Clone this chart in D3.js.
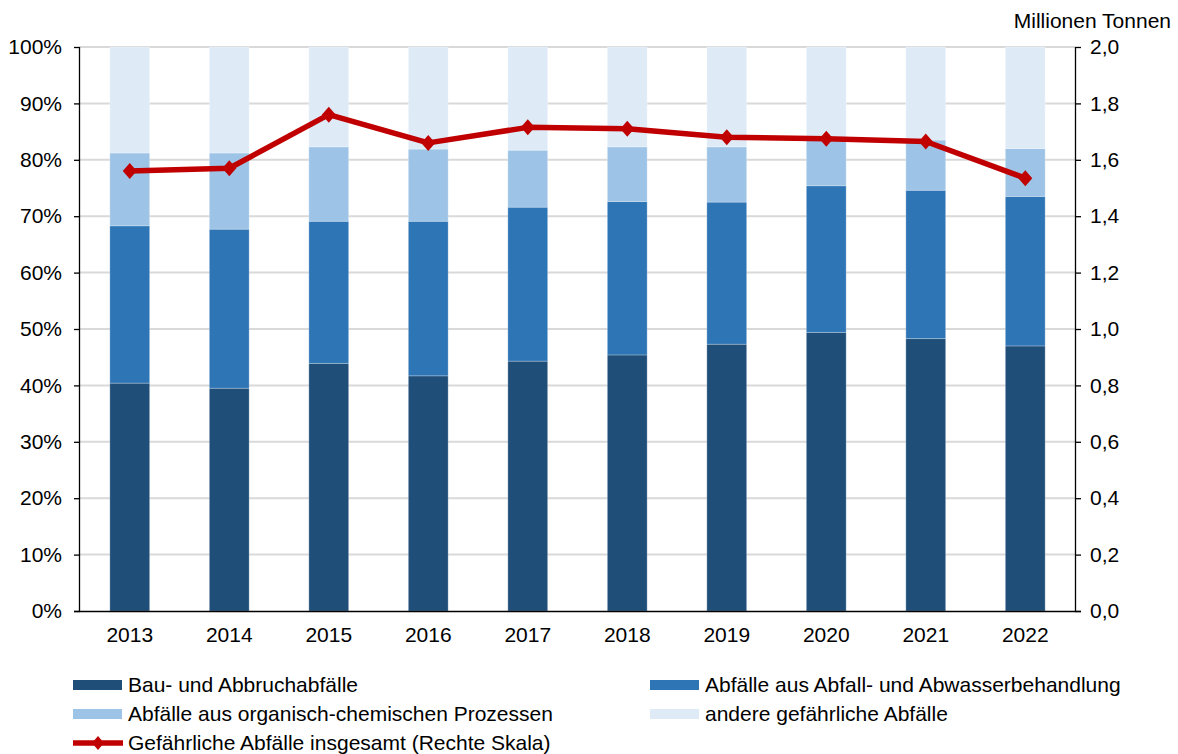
<!DOCTYPE html>
<html>
<head>
<meta charset="utf-8">
<script src="https://cdn.jsdelivr.net/npm/d3@7/dist/d3.min.js"></script>
<style>
  html, body { margin: 0; padding: 0; background: #fff; }
  svg { display: block; font-family: "Liberation Sans", Arial, sans-serif; }
</style>
</head>
<body>
<svg id="chart" width="1178" height="754"></svg>
<script>
// Jahre
const years = ["2013", "2014", "2015", "2016", "2017", "2018", "2019", "2020", "2021", "2022"];

// Anteile (in %) je Abfallart
const bauAbbruch      = [40.4, 39.5, 43.9, 41.7, 44.3, 45.4, 47.3, 49.4, 48.3, 47.0];
const abfallAbwasser  = [27.9, 28.2, 25.2, 27.4, 27.3, 27.2, 25.2, 26.0, 26.3, 26.5];
const organischChem   = [12.9, 13.5, 13.2, 12.8, 10.1,  9.7,  9.8,  8.3,  8.9,  8.5];
const andere          = [18.8, 18.8, 17.7, 18.1, 18.3, 17.7, 17.7, 16.3, 16.5, 18.0];

// Gefährliche Abfälle insgesamt, Millionen Tonnen
const insgesamt = [1.56, 1.57, 1.76, 1.66, 1.715, 1.71, 1.68, 1.675, 1.665, 1.535];

const leftTicks  = [0, 10, 20, 30, 40, 50, 60, 70, 80, 90, 100];
const rightTicks = [0, 0.2, 0.4, 0.6, 0.8, 1.0, 1.2, 1.4, 1.6, 1.8, 2.0];

const seriesNames = [
  "Bau- und Abbruchabfälle",
  "Abfälle aus Abfall- und Abwasserbehandlung",
  "Abfälle aus organisch-chemischen Prozessen",
  "andere gefährliche Abfälle"
];
const lineName = "Gefährliche Abfälle insgesamt (Rechte Skala)";
const colors = ["#1f4e79", "#2e75b6", "#9dc3e6", "#deebf7"];
const red = "#c00000";
const fs = 21;

const svg = d3.select("#chart");
const m = { left: 80, right: 1075, top: 47, bottom: 611 };

const x = d3.scaleBand().domain(years).range([m.left, m.right]).paddingInner(0.6).paddingOuter(0.3);
const yL = d3.scaleLinear().domain([0, 100]).range([m.bottom, m.top]);
const yR = d3.scaleLinear().domain([0, 2]).range([m.bottom, m.top]);

// Gitternetz
svg.append("g").selectAll("line")
  .data(leftTicks.filter(d => d > 0))
  .join("line")
  .attr("x1", m.left).attr("x2", m.right)
  .attr("y1", d => yL(d)).attr("y2", d => yL(d))
  .attr("stroke", "#d9d9d9").attr("stroke-width", 2);

// gestapelte Säulen
const rows = years.map((yr, i) => ({
  year: yr, s0: bauAbbruch[i], s1: abfallAbwasser[i], s2: organischChem[i], s3: andere[i]
}));
const stack = d3.stack().keys(["s0", "s1", "s2", "s3"])(rows);

svg.append("g").selectAll("g")
  .data(stack)
  .join("g")
  .attr("fill", (d, i) => colors[i])
  .selectAll("rect")
  .data(d => d)
  .join("rect")
  .attr("x", d => x(d.data.year))
  .attr("width", x.bandwidth())
  .attr("y", d => yL(d[1]))
  .attr("height", d => yL(d[0]) - yL(d[1]))
  .attr("stroke", "rgba(255,255,255,0.25)")
  .attr("stroke-width", 1);

// Achse links
const axL = d3.axisLeft(yL).tickValues(leftTicks).tickSize(6).tickPadding(12)
  .tickFormat(d => d + "%");
const gL = svg.append("g").attr("transform", `translate(${m.left},0)`).call(axL);
gL.select(".domain").attr("stroke", "#000").attr("stroke-width", 1.3).attr("d", `M-0.5,${m.top}V${m.bottom}`);
gL.selectAll(".tick line").attr("stroke", "#000").attr("stroke-width", 1.3);
gL.selectAll("text").attr("font-size", fs).attr("fill", "#000")
  .attr("font-family", "Liberation Sans, Arial, sans-serif");

// Achse rechts
const axR = d3.axisRight(yR).tickValues(rightTicks).tickSize(6).tickPadding(9)
  .tickFormat(d => d3.format(".1f")(d).replace(".", ","));
const gR = svg.append("g").attr("transform", `translate(${m.right},0)`).call(axR);
gR.select(".domain").attr("stroke", "#000").attr("stroke-width", 1.3).attr("d", `M0.5,${m.top}V${m.bottom}`);
gR.selectAll(".tick line").attr("stroke", "#000").attr("stroke-width", 1.3);
gR.selectAll("text").attr("font-size", fs).attr("fill", "#000")
  .attr("font-family", "Liberation Sans, Arial, sans-serif");

// x-Achse
const axB = d3.axisBottom(x).tickSize(0).tickPadding(16);
const gB = svg.append("g").attr("transform", `translate(0,${m.bottom})`).call(axB);
gB.select(".domain").attr("stroke", "#000").attr("stroke-width", 1.3).attr("d", `M${m.left - 6},0.5H${m.right + 6}`);
gB.selectAll("text").attr("font-size", fs).attr("fill", "#000")
  .attr("font-family", "Liberation Sans, Arial, sans-serif");

// Einheit rechts
svg.append("text").attr("x", 1171).attr("y", 28).attr("text-anchor", "end")
  .attr("font-size", fs).attr("fill", "#000").text("Millionen Tonnen");

// Linie insgesamt
const cx = yr => x(yr) + x.bandwidth() / 2;
const line = d3.line().x((d, i) => cx(years[i])).y(d => yR(d));
svg.append("path").datum(insgesamt)
  .attr("d", line).attr("fill", "none").attr("stroke", red)
  .attr("stroke-width", 5.5).attr("stroke-linejoin", "round");

const diamond = (w, h) => `M0,${-h}L${w},0L0,${h}L${-w},0Z`;
svg.append("g").selectAll("path")
  .data(insgesamt)
  .join("path")
  .attr("transform", (d, i) => `translate(${cx(years[i])},${yR(d)})`)
  .attr("d", diamond(7, 8))
  .attr("fill", red);

// Legende
const legend = svg.append("g");
const items = [
  { name: seriesNames[0], color: colors[0], x: 73, y: 685 },
  { name: seriesNames[1], color: colors[1], x: 650, y: 685 },
  { name: seriesNames[2], color: colors[2], x: 73, y: 714 },
  { name: seriesNames[3], color: colors[3], x: 650, y: 714 }
];
items.forEach(it => {
  legend.append("rect").attr("x", it.x).attr("y", it.y - 5).attr("width", 49).attr("height", 10).attr("fill", it.color);
  legend.append("text").attr("x", it.x + 55).attr("y", it.y).attr("dy", "0.35em")
    .attr("font-size", fs).attr("fill", "#000").text(it.name);
});
legend.append("line").attr("x1", 73).attr("x2", 123).attr("y1", 743).attr("y2", 743)
  .attr("stroke", red).attr("stroke-width", 5.5);
legend.append("path").attr("transform", "translate(98,743)").attr("d", diamond(6, 7)).attr("fill", red);
legend.append("text").attr("x", 128).attr("y", 743).attr("dy", "0.35em")
  .attr("font-size", fs).attr("fill", "#000").text(lineName);
</script>
</body>
</html>
